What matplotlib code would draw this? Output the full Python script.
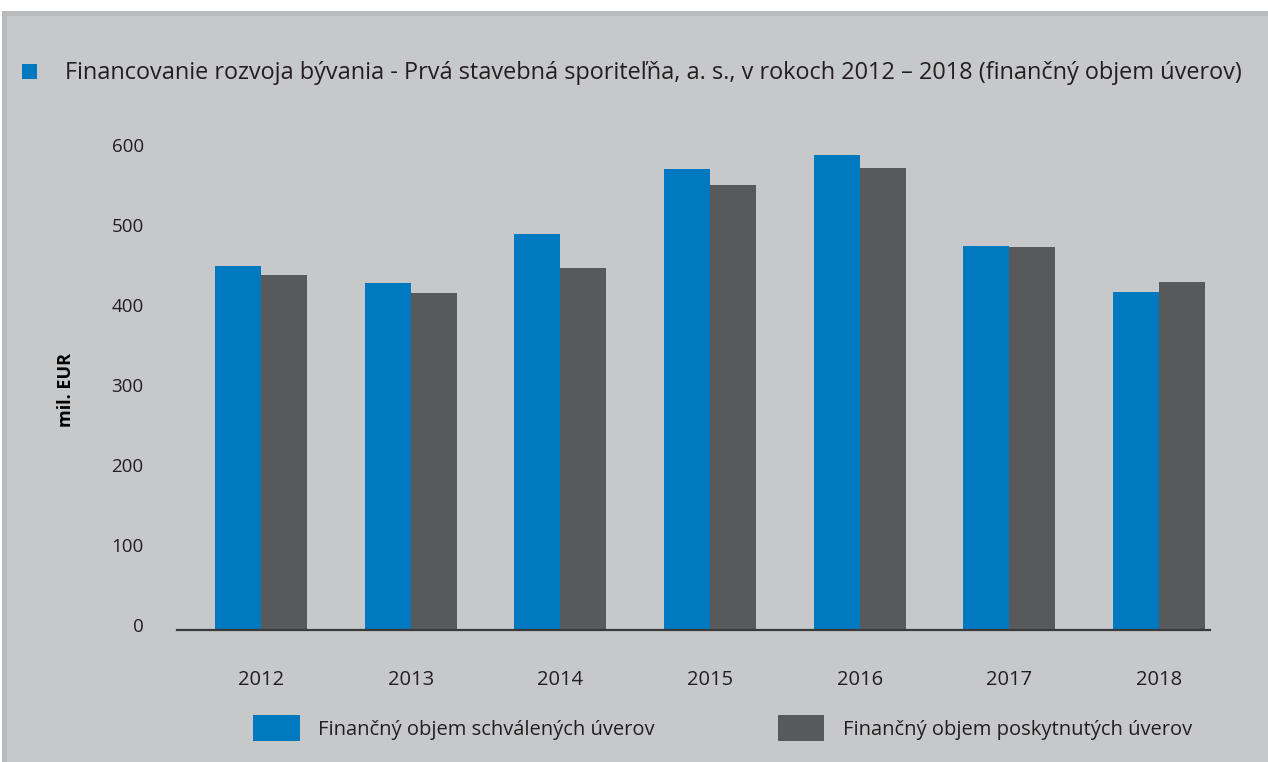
import matplotlib.pyplot as plt
import matplotlib.transforms as mtransforms
from matplotlib.patches import Rectangle
import numpy as np

plt.rcParams['font.family'] = ['Open Sans', 'DejaVu Sans']

years = ['2012', '2013', '2014', '2015', '2016', '2017', '2018']
schvalene = [455, 434, 495, 576, 594, 480, 423]
poskytnute = [444, 421, 453, 556, 578, 479, 435]
y_ticks = [0, 100, 200, 300, 400, 500, 600]

title = 'Financovanie rozvoja bývania - Prvá stavebná sporiteľňa, a. s., v rokoch 2012 – 2018 (finančný objem úverov)'
label_a = 'Finančný objem schválených úverov'
label_b = 'Finančný objem poskytnutých úverov'

blue = '#0079C1'
grey = '#58595B'
panel = '#C7C8CA'
text_col = '#231F20'

W, H = 1268, 762
fig = plt.figure(figsize=(W / 100, H / 100), dpi=100)
fig.patch.set_facecolor('white')

# background panel with darker top/left edge
fig.patches.append(Rectangle((2 / W, 0), 1, (H - 11) / H, transform=fig.transFigure,
                             facecolor='#B9BABC', edgecolor='none', zorder=-2))
fig.patches.append(Rectangle((7 / W, 0), 1, (H - 16) / H, transform=fig.transFigure,
                             facecolor=panel, edgecolor='none', zorder=-1))

ax = fig.add_axes([177 / W, 132 / H, (1210 - 177) / W, 480 / H])
ax.set_facecolor('none')
ax.set_zorder(2)

x = np.arange(len(years))
w = 0.307
ax.bar(x - w / 2, schvalene, width=w, color=blue, label=label_a)
ax.bar(x + w / 2, poskytnute, width=w, color=grey, label=label_b)

ax.set_xlim(-0.561, 6.34)
ax.set_ylim(0, 600)
ax.set_yticks(y_ticks)
ax.set_xticks(x)
ax.set_xticklabels(years)

for s in ['top', 'right', 'left']:
    ax.spines[s].set_visible(False)
ax.spines['bottom'].set_color('#3A3A3C')
ax.spines['bottom'].set_linewidth(1.6)
ax.tick_params(axis='both', length=0, colors=text_col)
ax.tick_params(axis='y', pad=24, labelsize=13.5)
ax.tick_params(axis='x', pad=29, labelsize=14.5)

offset = mtransforms.ScaledTranslation(0, 5 / 100, fig.dpi_scale_trans)
for lbl in ax.get_yticklabels():
    lbl.set_transform(lbl.get_transform() + offset)

ax.set_ylabel('mil. EUR', fontsize=13, fontweight='bold', color='black', labelpad=26)

# title with square marker
fig.patches.append(Rectangle((22 / W, (H - 79) / H), 15 / W, 15 / H, transform=fig.transFigure,
                             facecolor=blue, edgecolor='none', zorder=1))
fig.text(65 / W, (H - 73) / H, title, fontsize=16.9, color=text_col, va='center', ha='left')

leg = fig.legend(loc='center left', bbox_to_anchor=(235 / W, (H - 728) / H), ncol=2,
                 frameon=False, fontsize=14.5, handlelength=2.33, handleheight=1.65,
                 columnspacing=6.1, handletextpad=0.9, labelcolor=text_col)

fig.savefig('out.png', dpi=100)
